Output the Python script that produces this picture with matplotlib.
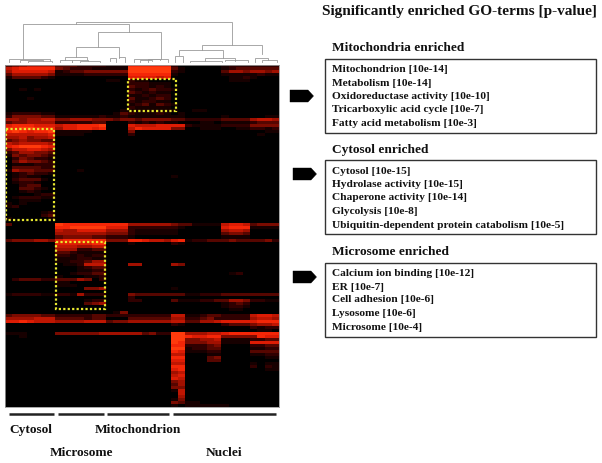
import matplotlib
matplotlib.use('Agg')
import matplotlib.pyplot as plt
import numpy as np
from matplotlib.colors import LinearSegmentedColormap
from matplotlib.patches import Polygon, Rectangle

# intensity 0-9, columns grouped as cyt mic gap mit nucA nucB nucC nucD
heat_rows = [
    "3456666 3332222 111 888888 20 00000 1222 2222",
    "6788888 4322211 111 999999 31 00000 1233 3333",
    "5777776 1233444 444 999999 21 00000 3554 5545",
    "3555554 1111222 222 888888 10 00000 1111 1211",
    "1333321 0000000 000 777767 00 00000 0112 1000",
    "0000000 0000000 110 211000 00 00000 0111 0000",
    "0000000 0000000 000 222111 00 00000 0000 0000",
    "0000000 0000000 000 322121 00 00000 0000 0000",
    "0010100 0000000 000 212322 10 00000 0000 0000",
    "0000000 0000000 000 321211 00 00000 0000 0000",
    "0000000 0000000 000 112122 00 00000 0000 0000",
    "0001000 0000000 000 311232 00 00000 0000 0000",
    "0000000 0000000 000 212211 00 00000 0000 0000",
    "0000000 0000000 000 123132 10 00000 0000 0000",
    "0000000 0000000 000 211111 00 00000 0000 0000",
    "0000000 0000000 001 111111 10 01100 0000 0000",
    "1222211 0000000 013 211121 01 00000 0000 0000",
    "2444433 1111112 112 111111 11 00000 1000 0011",
    "5545566 4455544 434 434444 33 22222 3333 5665",
    "3445555 2222233 000 212121 10 00110 1111 2333",
    "7888777 6778889 000 766677 77 21111 2222 4444",
    "8899888 5778878 000 687777 44 00111 0011 2212",
    "8987889 1111100 000 400000 00 00000 0000 0011",
    "6666667 1111000 000 200000 00 00000 0000 0100",
    "5564556 0000000 000 000000 00 00000 0000 0000",
    "3454433 0000000 000 000000 00 00000 0000 0000",
    "6566665 0000000 000 000000 00 00000 0000 0000",
    "7899987 0000000 000 000000 00 00000 0000 0000",
    "4667765 0000000 000 000000 00 00000 0000 0000",
    "2355443 0000000 000 000000 00 00000 0000 0000",
    "1434432 0000000 000 000000 00 00000 0000 0000",
    "0243221 0000000 000 000000 00 00000 0000 0000",
    "0354432 0000000 000 000000 00 00000 0000 0000",
    "0111222 0000000 000 000000 00 00000 0000 0000",
    "0333322 0000000 000 000000 00 00000 0000 0000",
    "1544333 0001000 000 000000 00 00000 0000 0000",
    "0123221 0000000 000 000000 00 00000 0000 0000",
    "0121100 0000000 000 000000 10 00000 0000 0000",
    "0233310 0000000 000 000000 00 00000 0000 0000",
    "0122100 0000000 000 000000 00 00000 0000 0000",
    "0023300 0000000 000 000000 00 00000 0000 0000",
    "0033210 0000000 000 000000 00 00000 0000 0000",
    "0012100 0000000 000 000000 00 00000 0000 0000",
    "0000122 0000000 000 000000 00 00000 0000 0000",
    "0122211 0000000 000 000000 00 00000 0000 0000",
    "0011100 0000000 000 000000 00 00000 0000 0000",
    "1010000 0000000 000 000000 00 00000 0000 0000",
    "1200000 0000000 000 000000 00 00000 0000 0000",
    "0000000 0000000 000 000000 00 00000 0000 0000",
    "0000012 0000000 000 000000 00 00000 0000 0000",
    "0000023 0000000 000 000000 00 00000 0000 0000",
    "1000001 0000000 000 000000 00 00000 0000 0000",
    "0000000 0000000 000 000000 00 00000 0000 0000",
    "3000000 9888888 888 555555 43 31111 6776 3444",
    "0000000 8899999 777 222222 21 00000 7888 1111",
    "0000000 6557777 555 211111 10 00000 5665 0000",
    "0000000 5555555 444 211111 10 00000 3443 0000",
    "0000000 3444433 222 100000 00 00000 1111 0000",
    "3444554 7888888 444 887665 78 12233 3433 3342",
    "0000000 7777788 000 100000 21 00000 0000 0000",
    "0000000 6665566 000 000000 00 00000 0000 0000",
    "0000000 5552233 000 000000 00 00000 0000 0000",
    "0000000 3321111 000 000000 00 00000 0000 0000",
    "0000000 2212122 000 000000 00 00000 0000 0000",
    "0000000 1112211 000 000000 00 00000 0000 0000",
    "0000000 1122355 000 000000 00 00000 0000 0000",
    "0000000 0112666 000 550000 54 00000 0000 0000",
    "0000000 0001233 000 000000 00 00000 0000 0000",
    "0000000 0001122 000 000000 00 00000 0000 0000",
    "0000000 0012233 000 000000 00 00000 0120 0000",
    "0000000 1000112 000 000000 00 00000 0000 0000",
    "0233322 3335402 000 000000 00 00000 0000 0000",
    "0000000 1100000 000 000000 00 00000 0000 0000",
    "0000000 1110000 000 000000 00 00000 0000 0000",
    "0000000 0000445 000 000000 10 00000 0000 0000",
    "0000000 0000000 000 000000 00 00000 0000 0000",
    "1222211 2215222 000 433333 33 11222 3333 3333",
    "0000000 0000000 000 200000 00 00000 0000 0000",
    "0000000 0000122 000 220000 31 11223 3554 2211",
    "0000000 0000345 000 000000 00 00000 1232 0000",
    "0000000 0000000 000 000000 00 00000 1221 0000",
    "0000000 0000000 000 000000 00 00000 0110 0000",
    "0000000 0000000 014 000000 00 00000 0000 0000",
    "3444433 2222233 222 222222 66 11233 2222 6776",
    "5555666 3333233 000 333333 55 22342 2222 5665",
    "7787666 5555666 344 555555 66 33556 7777 7888",
    "0000000 0000000 000 000000 21 00000 2333 4556",
    "0000000 0000000 000 000000 00 00000 0000 2122",
    "0000000 0000000 000 000000 00 00000 0000 0110",
    "1110000 4444445 555 553422 99 55566 7888 8888",
    "0010000 0000000 000 000000 99 87788 4444 4877",
    "0000000 0000000 000 000000 99 44556 1111 2233",
    "0000000 0000000 000 000000 98 44455 1111 7777",
    "0000000 0000000 000 000000 88 22234 0000 2233",
    "0000000 0000000 000 000000 99 12233 0000 1122",
    "0000000 0000000 000 000000 87 11122 0000 3333",
    "0000000 0000000 000 000000 66 00011 0000 1122",
    "0000000 0000000 000 000000 88 00034 0000 0011",
    "0000000 0000000 000 000000 77 00033 0000 0000",
    "0000000 0000000 000 000000 66 00000 0000 1011",
    "0000000 0000000 000 000000 88 00000 0000 2021",
    "0000000 0000000 000 000000 78 00000 0000 0011",
    "0000000 0000000 000 000000 56 00000 0000 0000",
    "0000000 0000000 000 000000 67 00000 0000 0000",
    "0000000 0000000 000 000000 76 00000 0000 0000",
    "0000000 0000000 000 000000 45 00000 0000 0000",
    "0000000 0000000 000 000000 35 00000 0000 0000",
    "0000000 0000000 000 000000 44 00000 0000 0000",
    "0000000 0000000 000 000000 16 00000 0000 0000",
    "0000000 0000000 000 000000 06 00000 0000 0000",
    "0000000 0000000 000 000000 05 00000 0000 0000",
    "0000000 0000000 000 000000 14 00000 0000 0000",
    "0000000 0000000 000 000000 43 11000 0000 0000",
    "0000000 0000000 000 000000 10 11111 1000 0000",
]

# dendrogram merges: left x, right x, top, left bottom, right bottom (pixels of the figure)
dendro_merges = [
    (76, 232, 21.5, 24, 44.5), (23, 129, 24, 59, 32), (98, 161, 32, 47, 59),
    (76, 119, 47, 57, 57), (65, 87, 57, 60, 60), (119, 125, 57, 58, 62), (110, 116, 58, 61, 62),
    (175, 183, 55.5, 62, 62), (179, 223, 49.5, 55, 58), (202, 262, 44.5, 49.5, 54),
    (255, 268, 58, 62, 60), (9, 50, 59, 62, 61), (20, 43, 60, 62, 61), (60, 72, 60, 62, 62),
    (72, 88, 60, 62, 61), (80, 100, 61, 62, 62), (134, 160, 59, 62, 60), (140, 152, 60, 62, 61),
    (148, 168, 59, 62, 62), (190, 222, 61, 62, 62), (205, 235, 58, 61, 61), (225, 248, 60, 61, 62),
    (262, 277, 60, 62, 62), (28, 52, 60.5, 62, 62),
]

group_bars = [(9, 54), (58, 104), (107, 169), (173, 276)]
group_names = ['Cytosol', 'Mitochondrion', 'Microsome', 'Nuclei']
highlight_cols = [(0.1, 6.8), (17.0, 23.7), (7.1, 13.9)]
highlight_rows = [(21.2, 51.7), (4.8, 15.5), (59.0, 81.2)]

main_title = 'Significantly enriched GO-terms [p-value]'
section_names = ['Mitochondria enriched', 'Cytosol enriched', 'Microsome enriched']
section_terms = [
    ['Mitochondrion [10e-14]', 'Metabolism [10e-14]', 'Oxidoreductase activity [10e-10]',
     'Tricarboxylic acid cycle [10e-7]', 'Fatty acid metabolism [10e-3]'],
    ['Cytosol [10e-15]', 'Hydrolase activity [10e-15]', 'Chaperone activity [10e-14]',
     'Glycolysis [10e-8]', 'Ubiquitin-dependent protein catabolism [10e-5]'],
    ['Calcium ion binding [10e-12]', 'ER [10e-7]', 'Cell adhesion [10e-6]',
     'Lysosome [10e-6]', 'Microsome [10e-4]'],
]

W, H = 602, 463
plt.rcParams['font.family'] = ['Liberation Serif', 'DejaVu Serif']
plt.rcParams['font.weight'] = 'bold'

fig = plt.figure(figsize=(W / 100, H / 100), dpi=100)
fig.patch.set_facecolor('white')

heat = np.array([[int(c) for c in ''.join(r.split())] for r in heat_rows], dtype=float)
cmap = LinearSegmentedColormap.from_list('heat', [(0, '#000000'), (0.2, '#2a0000'), (0.55, '#a01000'),
                                                  (0.85, '#f02006'), (1, '#ff3a0c')])

ax = fig.add_axes([5 / W, 1 - 407 / H, 274 / W, 342 / H])
ax.imshow(heat, cmap=cmap, vmin=0, vmax=9, aspect='auto', interpolation='nearest')
ax.set_xticks([])
ax.set_yticks([])
for s in ax.spines.values():
    s.set_color('#999999')
    s.set_linewidth(0.6)
for (c0, c1), (r0, r1) in zip(highlight_cols, highlight_rows):
    ax.add_patch(Rectangle((c0 - 0.5, r0 - 0.5), c1 - c0, r1 - r0, fill=False, ec='#e8e830', lw=1.6,
                           ls=(0, (1, 1))))

# overlay in figure pixels for dendrogram, text and boxes
ov = fig.add_axes([0, 0, 1, 1], facecolor='none')
ov.set_xlim(0, W)
ov.set_ylim(H, 0)
ov.axis('off')

for x1, x2, top, b1, b2 in dendro_merges:
    ov.plot([x1, x1, x2, x2], [b1, top, top, b2], color='#9a9a9a', lw=0.6, solid_joinstyle='miter')

for x0, x1 in group_bars:
    ov.plot([x0, x1], [414, 414], color='#222222', lw=1.8, solid_capstyle='butt')

ov.text(31, 430, group_names[0], ha='center', va='center', fontsize=9.6, color='#111111')
ov.text(138, 430, group_names[1], ha='center', va='center', fontsize=9.6, color='#111111')
ov.text(81, 453, group_names[2], ha='center', va='center', fontsize=9.6, color='#111111')
ov.text(224, 453, group_names[3], ha='center', va='center', fontsize=9.6, color='#111111')

ov.text(322, 12, main_title, ha='left', va='center', fontsize=11, color='#111111')

box_tops = [58.5, 160, 262.5]
box_bottoms = [133, 234, 337]
name_y = [48, 150, 252]
term_y = [[69, 83, 96.5, 110, 124], [171, 184.5, 198, 211.5, 225], [273, 287, 300, 314, 328]]
arrow_x = [290, 293, 293]
arrow_y = [96, 174, 277]
for i, name in enumerate(section_names):
    ov.text(332, name_y[i], name, ha='left', va='center', fontsize=9.6, color='#111111')
    ov.add_patch(Rectangle((324.5, box_tops[i]), 271.5, box_bottoms[i] - box_tops[i], fill=False,
                           ec='#333333', lw=1.0))
    for term, y in zip(section_terms[i], term_y[i]):
        ov.text(332, y, term, ha='left', va='center', fontsize=8.2, color='#111111')
    ax_, ay_ = arrow_x[i], arrow_y[i]
    ov.add_patch(Polygon([(ax_, ay_ - 6), (ax_ + 18, ay_ - 6), (ax_ + 23.5, ay_), (ax_ + 18, ay_ + 6), (ax_, ay_ + 6)],
                         closed=True, fc='black', ec='black', lw=0.3))

plt.savefig('out.png', dpi=100)
